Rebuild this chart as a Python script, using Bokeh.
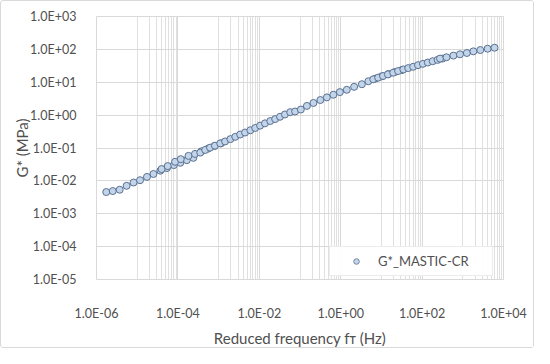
import numpy as np
from bokeh.plotting import figure
from bokeh.models import FixedTicker, CustomJSTickFormatter, Range1d, Legend, LegendItem
from bokeh.embed import file_html
from bokeh.resources import INLINE

# log10 of reduced frequency (Hz) and log10 of G* (MPa)
log_freq = [
    -5.76, -5.60, -5.43, -5.26, -5.09, -4.93, -4.76, -4.60, -4.43, -4.27, -4.10, -3.94, -3.78, -3.62,
    -4.40, -4.25, -4.07, -3.93, -3.74, -3.58, -3.42, -3.26, -3.10, -2.94,
    -3.45, -3.33, -3.21, -3.09, -2.96, -2.84, -2.71, -2.59, -2.47, -2.35, -2.22, -2.10, -1.98, -1.86,
    -1.73, -1.61, -1.49, -1.37, -1.24,
    -1.12, -0.98, -0.83, -0.67, -0.50, -0.34, -0.18, -0.02, 0.15, 0.33, 0.52, 0.68, 0.85, 1.01, 1.17,
    1.33, 1.50,
    0.80, 0.92, 1.04, 1.16, 1.29, 1.41, 1.54, 1.66, 1.78, 1.90, 2.02, 2.14, 2.26, 2.38, 2.50,
    2.44, 2.60, 2.77, 2.93, 3.10, 3.26, 3.43, 3.61, 3.78,
]
log_gstar = [
    -2.34, -2.31, -2.27, -2.15, -2.05, -1.98, -1.88, -1.79, -1.69, -1.61, -1.52, -1.45, -1.37, -1.30,
    -1.64, -1.55, -1.42, -1.34, -1.24, -1.18, -1.10, -1.02, -0.94, -0.86,
    -1.14, -1.06, -0.99, -0.93, -0.86, -0.80, -0.73, -0.66, -0.59, -0.53, -0.46, -0.39, -0.32, -0.25,
    -0.18, -0.12, -0.05, 0.02, 0.09,
    0.11, 0.17, 0.28, 0.37, 0.46, 0.54, 0.62, 0.70, 0.77, 0.86, 0.94, 1.03, 1.11, 1.18, 1.25,
    1.31, 1.37,
    1.09, 1.14, 1.19, 1.24, 1.29, 1.34, 1.39, 1.43, 1.47, 1.52, 1.56, 1.60, 1.64, 1.68, 1.72,
    1.72, 1.76, 1.81, 1.85, 1.89, 1.94, 1.98, 2.02, 2.05,
]
series_name = "G*_MASTIC-CR"
x_ticks = [1e-6, 1e-4, 1e-2, 1e0, 1e2, 1e4]
y_ticks = [1e-5, 1e-4, 1e-3, 1e-2, 1e-1, 1e0, 1e1, 1e2, 1e3]
x_minor = [k * 10.0 ** e for e in (-5, -3, -1, 1, 3) for k in range(1, 10)]

freq = [10.0 ** v for v in log_freq]
gstar = [10.0 ** v for v in log_gstar]

FONT = "Lato"
TXT = "#505050"
GRID = "#d9d9d9"
FILL = "#c2d5ea"
EDGE = "#5b7190"

p = figure(width=534, height=348, x_axis_type="log", y_axis_type="log",
           x_range=Range1d(1e-6, 1e4), y_range=Range1d(1e-5, 1e3),
           output_backend="svg", toolbar_location=None,
           min_border_left=95, min_border_right=32, min_border_top=15, min_border_bottom=57,
           styles={"border": "1px solid #d9d9d9", "border-radius": "3px"})
p.outline_line_color = GRID

fmt = CustomJSTickFormatter(code="""
const e = Math.round(Math.log10(tick));
const m = tick / Math.pow(10, e);
const a = Math.abs(e);
return m.toFixed(1) + 'E' + (e < 0 ? '-' : '+') + (a < 10 ? '0' : '') + a;
""")

p.xaxis.ticker = FixedTicker(ticks=x_ticks, minor_ticks=x_minor)
p.yaxis.ticker = FixedTicker(ticks=y_ticks, minor_ticks=[])
for ax in (p.xaxis[0], p.yaxis[0]):
    ax.formatter = fmt
    ax.axis_line_color = None
    ax.major_tick_line_color = None
    ax.minor_tick_line_color = None
    ax.major_label_text_font = FONT
    ax.major_label_text_font_size = "12.5px"
    ax.major_label_text_color = TXT
    ax.axis_label_text_font = FONT
    ax.axis_label_text_font_size = "15px"
    ax.axis_label_text_font_style = "normal"
    ax.axis_label_text_color = TXT
p.xaxis.major_label_standoff = 20
p.yaxis.major_label_standoff = 14
p.xaxis.axis_label = "Reduced frequency f\u1d1b (Hz)"
p.yaxis.axis_label = "G* (MPa)"
p.xaxis.axis_label_standoff = 5
p.yaxis.axis_label_standoff = -4

p.xgrid.grid_line_color = GRID
p.xgrid.minor_grid_line_color = "#e0e0e0"
p.ygrid.grid_line_color = GRID

# small legend marker, drawn underneath (hidden by) the first data point
r_leg = p.scatter(x=freq[:1], y=gstar[:1], size=5, marker="circle", fill_color=FILL,
                  line_color=EDGE, line_width=0.8)
r = p.scatter(freq, gstar, size=7, marker="circle", fill_color=FILL,
              line_color=EDGE, line_width=1)

legend = Legend(items=[LegendItem(label=series_name, renderers=[r_leg])],
                location=(233, 3), margin=0, padding=6, glyph_width=40, glyph_height=14,
                label_standoff=2, label_width=108, label_height=14,
                label_text_font=FONT, label_text_font_size="13px", label_text_color=TXT,
                border_line_color=GRID, background_fill_color="white")
p.add_layout(legend)

open("out.html", "w").write(file_html(p, INLINE))
